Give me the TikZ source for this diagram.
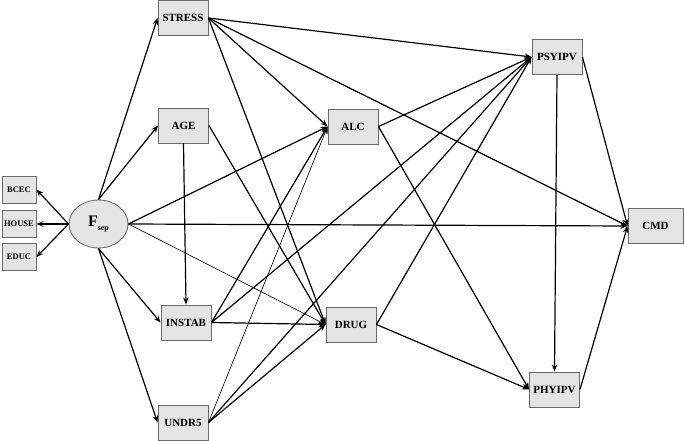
\documentclass[tikz,border=0pt]{standalone}
\usepackage{fontspec}
\setmainfont{Liberation Serif}
\usetikzlibrary{arrows.meta,shapes.geometric}
\definecolor{boxgray}{HTML}{E4E4E4}
\definecolor{bordergray}{HTML}{6A6A6A}
\begin{document}
\begin{tikzpicture}[x=1pt,y=-1pt,
  box/.style={draw=bordergray,fill=boxgray,line width=0.9pt,minimum width=50pt,minimum height=35pt,inner sep=0pt,font=\bfseries\fontsize{11}{12}\selectfont},
  smallbox/.style={box,minimum width=34pt,minimum height=27pt,font=\bfseries\fontsize{8.5}{9}\selectfont},
  arr/.style={-{Stealth[length=7pt,width=5.5pt]},line width=1.2pt},
  thinarr/.style={-{Stealth[length=7pt,width=5.5pt]},line width=0.65pt}]
\useasboundingbox (0,0) rectangle (685,441);
\node[box] (stress) at (183,18) {STRESS};
\node[box] (age) at (183.5,125.5) {AGE};
\node[box] (instab) at (186,322.5) {INSTAB};
\node[box] (undr5) at (183,422.5) {UNDR5};
\node[box] (alc) at (353,126.5) {ALC};
\node[box] (drug) at (351,324.5) {DRUG};
\node[box] (psy) at (557,57) {PSYIPV};
\node[box] (phy) at (554.5,389.5) {PHYIPV};
\node[box,minimum width=55pt] (cmd) at (655.5,226) {CMD};
\node[smallbox] (bcec) at (19,189.5) {BCEC};
\node[smallbox] (house) at (19,224) {HOUSE};
\node[smallbox] (educ) at (19,257) {EDUC};
\node[ellipse,draw=bordergray,fill=boxgray,line width=0.9pt,minimum width=59pt,minimum height=48pt,inner sep=0pt] (f) at (98.5,224)
  {\bfseries\fontsize{16}{18}\selectfont F\raisebox{-3.5pt}{\fontsize{8}{9}\selectfont sep}};
% Fsep
\draw[arr] (f.west) -- (bcec.east);
\draw[arr] (f.west) -- (house.east);
\draw[arr] (f.west) -- (educ.east);
\draw[arr] (f.north) -- (stress.west);
\draw[arr] (f.north) -- (age.west);
\draw[arr] (f.south) -- (instab.west);
\draw[arr] (f.south) -- (undr5.west);
\draw[arr] (f.east) -- (alc.west);
\draw[arr] (f.east) -- (cmd.west);
\draw[thinarr] (f.east) -- (drug.west);
% STRESS
\draw[arr] (stress.east) -- (psy.west);
\draw[arr] (stress.east) -- (alc.west);
\draw[arr] (stress.east) -- (drug.west);
\draw[arr] (stress.east) -- (cmd.west);
% AGE
\draw[arr] (age.east) -- (drug.west);
\draw[arr] (age.south) -- (instab.north);
% INSTAB
\draw[arr] (instab.east) -- (alc.west);
\draw[arr] (instab.east) -- (psy.west);
\draw[arr] (instab.east) -- (drug.west);
% UNDR5
\draw[thinarr] (undr5.east) -- (alc.west);
\draw[arr] (undr5.east) -- (psy.west);
\draw[arr] (undr5.east) -- (drug.west);
% ALC, DRUG
\draw[arr] (alc.east) -- (psy.west);
\draw[arr] (alc.east) -- (phy.west);
\draw[arr] (drug.east) -- (psy.west);
\draw[arr] (drug.east) -- (phy.west);
% IPV
\draw[arr] (psy.south) -- (phy.north);
\draw[arr] (psy.east) -- (cmd.west);
\draw[arr] (phy.east) -- (cmd.west);
\end{tikzpicture}
\end{document}
